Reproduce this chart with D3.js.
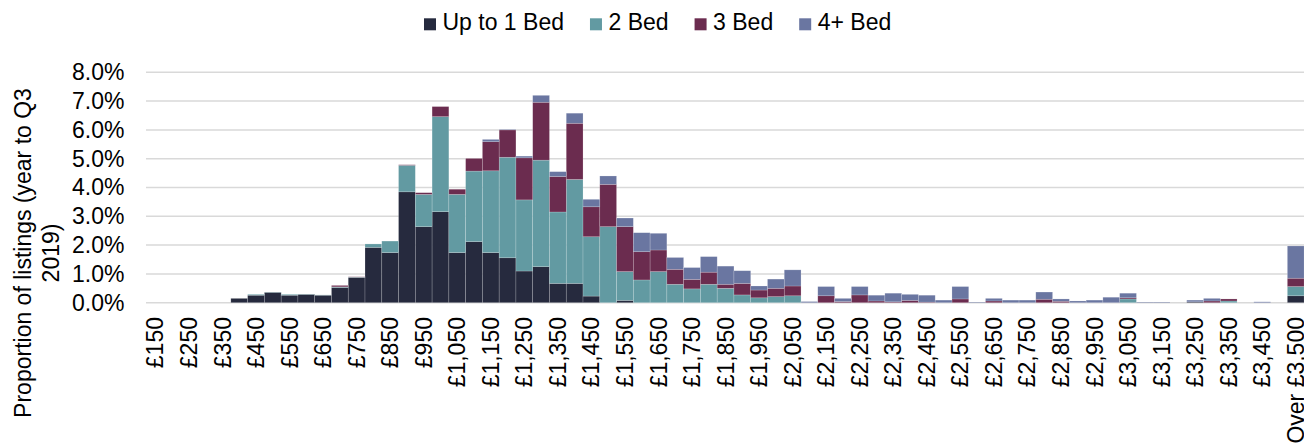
<!DOCTYPE html>
<html>
<head>
<meta charset="utf-8">
<script src="https://cdn.jsdelivr.net/npm/d3@7"></script>
<style>
  html, body { margin: 0; padding: 0; background: #fff; }
  svg { display: block; }
  text { font-family: "Liberation Sans", Arial, sans-serif; fill: #000; }
</style>
</head>
<body>
<svg id="chart" width="1304" height="445"></svg>
<script>
const categories = ["£150","£200","£250","£300","£350","£400","£450","£500","£550","£600","£650","£700","£750","£800","£850","£900","£950","£1,000","£1,050","£1,100","£1,150","£1,200","£1,250","£1,300","£1,350","£1,400","£1,450","£1,500","£1,550","£1,600","£1,650","£1,700","£1,750","£1,800","£1,850","£1,900","£1,950","£2,000","£2,050","£2,100","£2,150","£2,200","£2,250","£2,300","£2,350","£2,400","£2,450","£2,500","£2,550","£2,600","£2,650","£2,700","£2,750","£2,800","£2,850","£2,900","£2,950","£3,000","£3,050","£3,100","£3,150","£3,200","£3,250","£3,300","£3,350","£3,400","£3,450","£3,500","Over £3,500"];

// values in percent of listings
const upTo1Bed = [0,0,0,0,0,0.15,0.26,0.36,0.26,0.29,0.26,0.53,0.88,1.92,1.74,3.85,2.64,3.16,1.74,2.12,1.74,1.56,1.10,1.25,0.67,0.67,0.23,0,0.08,0,0,0,0,0,0,0,0,0,0,0,0,0,0,0,0,0,0,0,0,0,0,0,0,0,0,0,0,0,0,0,0,0,0.03,0,0,0,0,0,0.24];
const bed2 = [0,0,0,0,0,0,0.03,0.01,0.03,0.01,0.01,0.02,0.01,0.12,0.40,0.92,1.12,3.30,2.02,2.45,2.84,3.49,2.47,3.70,2.48,3.61,2.06,2.64,1.00,0.79,1.08,0.64,0.48,0.64,0.50,0.27,0.17,0.21,0.24,0,0,0,0,0,0,0,0,0,0,0,0,0,0,0,0,0,0,0,0.13,0,0,0,0,0,0.06,0,0,0,0.32];
const bed3 = [0,0,0,0,0,0,0,0,0,0,0,0.05,0.01,0,0,0.02,0.06,0.35,0.18,0.44,1.01,0.95,1.46,2.01,1.23,1.95,1.04,1.47,1.56,0.98,0.75,0.52,0.33,0.42,0.14,0.40,0.27,0.29,0.34,0,0.24,0.04,0.27,0.06,0.03,0.08,0.02,0,0.13,0,0.06,0,0,0.12,0.05,0,0,0,0.04,0,0,0,0,0.06,0.07,0,0,0,0.29];
const bed4 = [0,0,0,0,0,0,0,0,0,0,0,0,0,0,0,0,0,0,0,0,0.08,0.02,0.06,0.24,0.17,0.35,0.26,0.29,0.30,0.66,0.58,0.41,0.41,0.54,0.63,0.44,0.14,0.32,0.56,0.04,0.32,0.11,0.29,0.20,0.30,0.21,0.24,0.09,0.43,0.02,0.09,0.09,0.09,0.25,0.08,0.06,0.09,0.19,0.16,0.02,0.02,0,0.06,0.09,0,0,0.03,0,1.12];

const seriesNames = ["Up to 1 Bed","2 Bed","3 Bed","4+ Bed"];
const seriesColors = ["#262a3e","#629aa2","#6b2c4f","#6a76a1"];
const yTicks = [0,1,2,3,4,5,6,7,8];

const rows = categories.map((c, i) => ({
  cat: c,
  "Up to 1 Bed": upTo1Bed[i],
  "2 Bed": bed2[i],
  "3 Bed": bed3[i],
  "4+ Bed": bed4[i]
}));

const svg = d3.select("#chart");
const FS = 23;

const x = d3.scaleBand().domain(categories).range([147, 147 + 69 * 16.77]).padding(0);
const y = d3.scaleLinear().domain([0, 8]).range([302.7, 72.3]);
const color = d3.scaleOrdinal().domain(seriesNames).range(seriesColors);

// gridlines
svg.append("g")
  .selectAll("line")
  .data(yTicks)
  .join("line")
  .attr("x1", 146).attr("x2", 1304)
  .attr("y1", d => y(d)).attr("y2", d => y(d))
  .attr("stroke", "#d9d9d9").attr("stroke-width", 1.5);

// bars
const stacked = d3.stack().keys(seriesNames)(rows);
svg.append("g")
  .selectAll("g")
  .data(stacked)
  .join("g")
  .attr("fill", d => color(d.key))
  .selectAll("rect")
  .data(d => d)
  .join("rect")
  .attr("x", d => x(d.data.cat))
  .attr("width", x.bandwidth())
  .attr("y", d => y(d[1]))
  .attr("height", d => Math.max(0, y(d[0]) - y(d[1])))
  .attr("stroke", "#ffffff")
  .attr("stroke-opacity", 0.3)
  .attr("stroke-width", 0.6);

// y axis
const yAxis = d3.axisLeft(y).tickValues(yTicks).tickSize(0).tickPadding(0)
  .tickFormat(d => d.toFixed(1) + "%");
const yg = svg.append("g").attr("transform", "translate(124.5,0)").call(yAxis);
yg.select(".domain").remove();
yg.selectAll("text").style("font-size", FS + "px").attr("fill", "#000")
  .style("font-family", '"Liberation Sans", Arial, sans-serif');

// x axis
const xAxis = d3.axisBottom(x)
  .tickValues(categories.filter((c, i) => i % 2 === 0))
  .tickSize(0).tickPadding(0);
const xg = svg.append("g").attr("transform", "translate(0,317)").call(xAxis);
xg.select(".domain").remove();
xg.selectAll("text")
  .style("font-size", FS + "px").attr("fill", "#000")
  .style("font-family", '"Liberation Sans", Arial, sans-serif')
  .attr("text-anchor", "end")
  .attr("transform", "rotate(-90)")
  .attr("x", 0).attr("y", 0)
  .attr("dy", "0.35em");

// y title
const yt = svg.append("text")
  .attr("transform", "translate(23,253) rotate(-90)")
  .attr("text-anchor", "middle")
  .style("font-size", FS + "px");
yt.append("tspan").attr("x", 0).attr("dy", "0.35em").text("Proportion of listings (year to Q3");
yt.append("tspan").attr("x", 0).attr("dy", "1.2em").text("2019)");

// legend
const legend = svg.append("g");
let lx = 424;
seriesNames.forEach((name, i) => {
  legend.append("rect")
    .attr("x", lx).attr("y", 18.3).attr("width", 12).attr("height", 12)
    .attr("fill", color(name));
  const t = legend.append("text")
    .attr("x", lx + 18.5).attr("y", 30)
    .style("font-size", FS + "px")
    .text(name);
  const w = t.node().getComputedTextLength();
  lx = lx + 18.5 + w + 26;
});
</script>
</body>
</html>
